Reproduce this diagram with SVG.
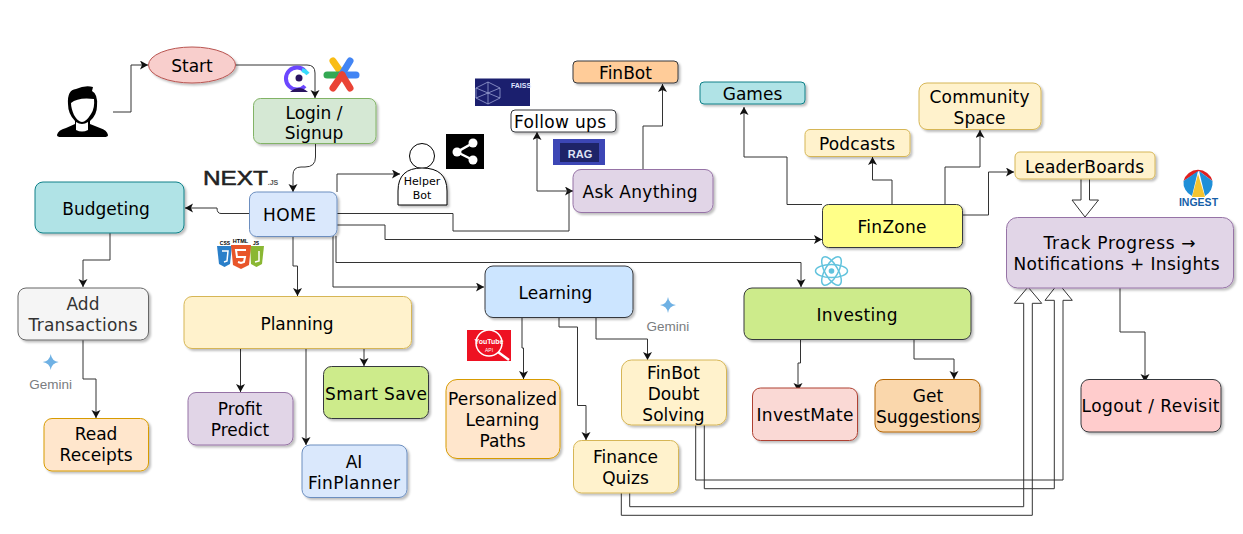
<svg xmlns="http://www.w3.org/2000/svg" width="1243" height="534" viewBox="0 0 1243 534">
<style>
text{font-family:"DejaVu Sans",Verdana,sans-serif;font-size:17px;fill:#000;text-anchor:middle}
.n{filter:url(#sh);stroke-width:1}
.c path{fill:none;stroke:#333;stroke-width:1;marker-end:url(#a)}
.c path.b{marker-end:none}
.lg{font-family:"Liberation Sans",Arial,sans-serif}
.gem{font-family:"Liberation Sans",Arial,sans-serif;font-size:13.5px;fill:#7a7d80}
.star{fill:#6fb1e4}
</style>
<defs>
<filter id="sh" x="-10%" y="-10%" width="125%" height="130%"><feDropShadow dx="2" dy="2" stdDeviation="1.2" flood-color="#000" flood-opacity=".25"/></filter>
<marker id="a" markerUnits="userSpaceOnUse" markerWidth="10" markerHeight="10" refX="8" refY="4.5" orient="auto"><path d="M8,4.5 L0,9 L2,4.5 L0,0z" fill="#111"/></marker>
</defs>
<rect width="1243" height="534" fill="#fff"/>

<g id="connectors" class="c">
<path d="M113,112 H131 V65 H148"/>
<path d="M236,65 H307 Q315,65 315,73 V98"/>
<path d="M315.5,143 V157 Q315.5,167 305,167 H301 Q293,167 293,175 V192"/>
<path d="M249,213.5 H221 Q217,213.5 217,208 H185"/>
<path d="M110,233 V260 H83 V287"/>
<path d="M83,340 V379 H96 V418"/>
<path d="M337,192 V174 H400"/>
<path d="M337,213.5 H453 V231 H569 V191 H573"/>
<path d="M573,191 H537 V132"/>
<path d="M643,169 V126 H662.5 V84"/>
<path d="M337,225 H385 V239.5 H822"/>
<path d="M333,236 V287 H484"/>
<path d="M336,236 V262.5 H801 V287"/>
<path d="M293,236 V266 H297.5 V296"/>
<path d="M240.5,348 V392"/>
<path d="M297,348 H306 V445"/>
<path d="M354,348 H364 V366"/>
<path d="M522,317 V348 H523.5 V379"/>
<path d="M559,317 V327 H577.5 V405.5 H586 V440"/>
<path d="M596,317 V339 H647.5 V360"/>
<path d="M800.5,339 V363 H798 V391"/>
<path d="M914,339 V359 H954 V379"/>
<path d="M822,204.5 H787 V157 H744 V107"/>
<path d="M892,204.5 V180 H872.5 V157"/>
<path d="M945,204.5 V167 H980 V130"/>
<path d="M962,215 H988.5 V172 H1014"/>
<path d="M1120,288 V332 H1145 V382"/>
<path class="b" d="M1081,179 V200 H1072 L1085,217 L1098.5,200 H1089.5 V179" style="fill:#fff"/>
<path class="b" d="M621.3,493 V515.3 H1032.3 V303.3 H1041.7 L1028,287 L1014.3,303.3 H1023.7 V506.7 H629.7 V493"/>
<path class="b" d="M695.7,425 V480 H1063 V300.3 H1072.3 L1058.3,283.3 L1045,300.3 H1054.3 V488.7 H704.3 V425"/>
</g>

<g id="user"><path d="M57,135 Q58,130 66,128 L75,124 V121 Q68,114 68,104 Q67,90 76,89 Q85,85 93,87 L92,91 Q98,94 97,106 Q97,115 90,121 V124 L100,128 Q107,130 108,135 Q108,137 104,137 H61 Q57,137 57,135z" fill="#000"/><path d="M71,103 Q78,97 94,99 Q95,108 91,114 Q86,122 82,122 Q78,122 74,115 Q71,108 71,103z" fill="#fff"/><path d="M76,122 Q82,126 88,122 V130 Q82,133 76,130z" fill="#fff"/></g>

<g id="start"><ellipse class="n" cx="192" cy="65" rx="43.5" ry="18" fill="#f8cecc" stroke="#b85450"/><text x="192" y="71.5">Start</text></g>
<g id="login"><rect class="n" x="253.5" y="98.5" width="122.500" height="45" rx="7" fill="#d5e8d4" stroke="#82b366"/><text x="314" y="118.500">Login /</text><text x="314" y="139">Signup</text></g>
<g id="home"><rect class="n" x="249.500" y="192" width="87.500" height="44.500" rx="7" fill="#dae8fc" stroke="#6c8ebf"/><text x="289.500" y="220.500" textLength="53">HOME</text></g>
<g id="budgeting"><rect class="n" x="35" y="182" width="149" height="51" rx="8" fill="#b0e3e6" stroke="#0e8088"/><text x="106" y="215">Budgeting</text></g>
<g id="helper"><circle cx="422" cy="156" r="12.500" fill="#fff" stroke="#000"/><path class="n" d="M398,205 V191 Q398,168 422,168 Q447,168 447,191 V205z" fill="#fff" stroke="#000"/><text x="422" y="185" style="font-size:11px">Helper</text><text x="422" y="199" style="font-size:11px">Bot</text></g>
<g id="finbot"><rect class="n" x="573" y="61" width="105" height="22" rx="4" fill="#ffcc99" stroke="#36393d"/><text x="625.500" y="78.500">FinBot</text></g>
<g id="followups"><rect class="n" x="511" y="110" width="105" height="22" rx="4" fill="#fff" stroke="#36393d"/><text x="560" y="127.500" textLength="92">Follow ups</text></g>
<g id="ask"><rect class="n" x="573" y="169.500" width="140" height="43" rx="8" fill="#e1d5e7" stroke="#9673a6"/><text x="640" y="197.500" textLength="115">Ask Anything</text></g>
<g id="games"><rect class="n" x="700" y="82" width="105" height="22" rx="4" fill="#b0e3e6" stroke="#0e8088"/><text x="752.500" y="99.500">Games</text></g>
<g id="podcasts"><rect class="n" x="805" y="129.500" width="105" height="27" rx="5" fill="#fff2cc" stroke="#d6b656"/><text x="857" y="149.500" textLength="76">Podcasts</text></g>
<g id="community"><rect class="n" x="919" y="83" width="122" height="46.500" rx="8" fill="#fff2cc" stroke="#d6b656"/><text x="979.500" y="103" textLength="100">Community</text><text x="979.500" y="124">Space</text></g>
<g id="leaderboards"><rect class="n" x="1015" y="152" width="140" height="27" rx="5" fill="#fff2cc" stroke="#d6b656"/><text x="1084.500" y="172.500" textLength="119">LeaderBoards</text></g>
<g id="finzone"><rect class="n" x="822.500" y="204.500" width="140" height="43" rx="6" fill="#ffff88" stroke="#36393d"/><text x="892" y="232.500" textLength="69">FinZone</text></g>
<g id="track"><rect class="n" x="1006.500" y="217.500" width="227" height="70.500" rx="11" fill="#e1d5e7" stroke="#9673a6"/><text x="1119.500" y="249" textLength="152">Track Progress →</text><text x="1116.500" y="270" textLength="206">Notifications + Insights</text></g>
<g id="learning"><rect class="n" x="485" y="266" width="148" height="51.500" rx="8" fill="#cce5ff" stroke="#36393d"/><text x="555.500" y="299">Learning</text></g>
<g id="investing"><rect class="n" x="744" y="288" width="227" height="51.500" rx="8" fill="#cdeb8b" stroke="#36393d"/><text x="857" y="321" textLength="81">Investing</text></g>
<g id="planning"><rect class="n" x="184" y="296.500" width="227.500" height="52" rx="8" fill="#fff2cc" stroke="#d6b656"/><text x="297" y="330">Planning</text></g>
<g id="addtx"><rect class="n" x="18" y="288" width="130.500" height="52" rx="8" fill="#f5f5f5" stroke="#666"/><text x="83" y="310" style="fill:#333">Add</text><text x="83" y="331" style="fill:#333" textLength="109">Transactions</text></g>
<g id="receipts"><rect class="n" x="44" y="418.500" width="104.500" height="52.500" rx="8" fill="#ffe6cc" stroke="#d79b00"/><text x="96" y="440">Read</text><text x="96" y="461" textLength="73">Receipts</text></g>
<g id="profit"><rect class="n" x="188" y="392.500" width="105" height="52.500" rx="8" fill="#e1d5e7" stroke="#9673a6"/><text x="240" y="415">Profit</text><text x="240" y="436">Predict</text></g>
<g id="smartsave"><rect class="n" x="323.500" y="366.500" width="105" height="52" rx="8" fill="#cdeb8b" stroke="#36393d"/><text x="376" y="400" textLength="102">Smart Save</text></g>
<g id="finplanner"><rect class="n" x="302" y="445" width="105" height="52.500" rx="8" fill="#dae8fc" stroke="#6c8ebf"/><text x="354" y="468">AI</text><text x="354" y="489" textLength="92">FinPlanner</text></g>
<g id="paths"><rect class="n" x="446" y="379.500" width="114" height="79" rx="11" fill="#ffe6cc" stroke="#d79b00"/><text x="502.500" y="405" textLength="109">Personalized</text><text x="502.500" y="426">Learning</text><text x="502.500" y="447">Paths</text></g>
<g id="quizs"><rect class="n" x="573.500" y="440.500" width="105" height="52.500" rx="8" fill="#fff2cc" stroke="#d6b656"/><text x="625.500" y="463">Finance</text><text x="625.500" y="484">Quizs</text></g>
<g id="doubt"><rect class="n" x="621.500" y="360" width="105" height="65" rx="10" fill="#fff2cc" stroke="#d6b656"/><text x="673.500" y="379">FinBot</text><text x="673.500" y="400">Doubt</text><text x="673.500" y="421">Solving</text></g>
<g id="investmate"><rect class="n" x="752.500" y="388" width="105" height="52.500" rx="8" fill="#fad9d5" stroke="#ae4132"/><text x="805" y="421" textLength="97">InvestMate</text></g>
<g id="suggestions"><rect class="n" x="875" y="379.500" width="105" height="52.500" rx="8" fill="#fad7ac" stroke="#b46504"/><text x="928" y="402">Get</text><text x="928" y="423">Suggestions</text></g>
<g id="logout"><rect class="n" x="1081" y="379.500" width="140" height="52.500" rx="8" fill="#ffcccc" stroke="#36393d"/><text x="1150.500" y="411.500" textLength="138">Logout / Revisit</text></g>

<g id="logo-clerk"><path d="M305,71 A11,11 0 1 0 305,86" fill="none" stroke="#6c47ff" stroke-width="4"/><path d="M302,70 A11,11 0 0 1 308,74" fill="none" stroke="#38dafc" stroke-width="4"/><circle cx="299" cy="78" r="3.500" fill="#2a1460"/><path d="M290,92 Q299,84 308,92z" fill="#2a1460"/></g>
<g id="logo-star" fill="none" stroke-width="7" stroke-linecap="round"><path d="M333,61 L342,74" stroke="#f9bc15"/><path d="M327,75 H342" stroke="#34a853"/><path d="M342,74 L350,61" stroke="#4285f4"/><path d="M342,75 H356" stroke="#4285f4"/><path d="M342,75 L333,88" stroke="#ea4335"/><path d="M342,75 L350,88" stroke="#ea4335"/></g>
<g id="logo-next"><text x="235.500" y="184.500" class="lg" textLength="65" lengthAdjust="spacingAndGlyphs" style="font-size:20px;fill:#222;stroke:#222;stroke-width:.5">NEXT</text><text x="273" y="184.500" class="lg" style="font-size:7px;font-weight:bold;fill:#555">.JS</text></g>
<g id="logo-html"><path d="M217,246 H232 L230,264 L224.500,267 L219,264z" fill="#2a7fc9"/><path d="M250,246 H264 L262,264 L256.500,267 L251,264z" fill="#8ab733"/><path d="M231,245 H251 L249,265 L241,269 L233,265z" fill="#e8562a"/><text x="225" y="245" class="lg" style="font-size:5px;font-weight:bold">CSS</text><text x="240.500" y="243" class="lg" style="font-size:5.500px;font-weight:bold">HTML</text><text x="256" y="245" class="lg" style="font-size:5px;font-weight:bold">JS</text><path d="M246,250 H236 L237,257 H245 L244,262 L241,263 L238,262" fill="none" stroke="#fff" stroke-width="2"/><path d="M222,251 H228 L227,261 L224,262" fill="none" stroke="#fff" stroke-width="1.500"/><path d="M259,251 V261 L255,262" fill="none" stroke="#fff" stroke-width="1.500"/></g>
<g id="logo-share"><rect x="446" y="134" width="38" height="35" fill="#000"/><path d="M473,143 L457,152 L473,160" fill="none" stroke="#fff" stroke-width="2.500"/><circle cx="473" cy="143" r="4.500" fill="#fff"/><circle cx="457" cy="152" r="4.500" fill="#fff"/><circle cx="473" cy="160" r="4.500" fill="#fff"/></g>
<g id="logo-faiss"><rect x="475" y="78.500" width="55" height="27.500" fill="#1b1f6e"/><path d="M488,82 L500,88 V98 L488,104 L476,98 V88z M488,82 L488,104 M476,88 L500,98 M500,88 L476,98" fill="none" stroke="#aab2e0" stroke-width=".7"/><text x="521" y="88" class="lg" style="font-size:7px;font-weight:bold;fill:#dfe3ff">FAISS</text></g>
<g id="logo-rag"><rect x="553" y="139" width="52" height="26" fill="#3c46b5"/><rect x="560" y="143" width="39" height="19" fill="#1e2468"/><text x="580" y="158" class="lg" style="font-size:11px;font-weight:bold;fill:#dfe3f5">RAG</text></g>
<g id="logo-gemini1"><path class="star" d="M668,297 Q669,304 676,305 Q669,306 668,313 Q667,306 660,305 Q667,304 668,297z"/><text x="668" y="330.500" class="gem">Gemini</text></g>
<g id="logo-gemini2"><path class="star" d="M50.700,354 Q51.700,361 58.700,362 Q51.700,363 50.700,370 Q49.700,363 42.700,362 Q49.700,361 50.700,354z"/><text x="50.700" y="389" class="gem">Gemini</text></g>
<g id="logo-youtube"><rect x="467" y="330" width="44" height="31" fill="#ee1122"/><circle cx="489" cy="343" r="13" fill="none" stroke="#fff" stroke-width="1.500"/><path d="M498,352 L509,360" stroke="#fff" stroke-width="2.500"/><text x="489" y="344" class="lg" style="font-size:7px;font-weight:bold;fill:#fff">YouTube</text><text x="489" y="352" class="lg" style="font-size:5px;fill:#fff">API</text></g>
<g id="logo-react" fill="none" stroke="#61c3dd" stroke-width="1.500"><ellipse cx="831.500" cy="271" rx="16" ry="6.500"/><ellipse cx="831.500" cy="271" rx="16" ry="6.500" transform="rotate(60 831.500 271)"/><ellipse cx="831.500" cy="271" rx="16" ry="6.500" transform="rotate(120 831.500 271)"/><circle cx="831.500" cy="271" r="2.800" fill="#61c3dd" stroke="none"/></g>
<g id="logo-ingest"><path d="M1183.500,181 A15,15 0 0 1 1212.500,181 L1199,171z" fill="#e02020"/><path d="M1183.500,181 L1198,171 L1192,196 A15,15 0 0 1 1183.500,181z" fill="#1f8fd8"/><path d="M1212.500,181 L1199,171 L1205,196 A15,15 0 0 0 1212.500,181z" fill="#1f8fd8"/><path d="M1198,174 L1205,197 H1192z" fill="#f4c430"/><text x="1198.500" y="205.500" class="lg" style="font-size:10.500px;font-weight:bold;fill:#1560a8">INGEST</text></g>
</svg>
